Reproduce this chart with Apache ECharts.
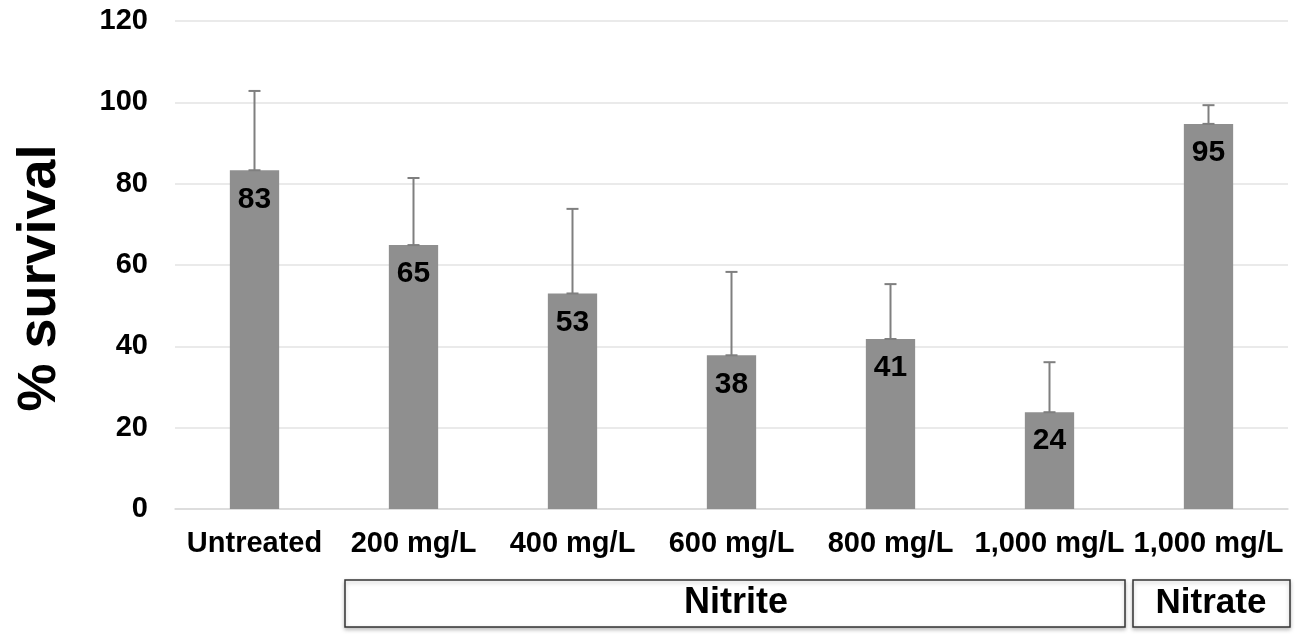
<!DOCTYPE html>
<html><head><meta charset="utf-8">
<script src="https://cdn.jsdelivr.net/npm/echarts@6/dist/echarts.min.js"></script>
<style>html,body{margin:0;padding:0;background:#fff}#c{width:1300px;height:639px}</style>
</head><body><div id="c"></div>
<script>
const categories = ['Untreated','200 mg/L','400 mg/L','600 mg/L','800 mg/L','1,000 mg/L','1,000 mg/L'];
const values = [83.3, 64.9, 53.0, 37.8, 41.8, 23.8, 94.7];
const valueLabels = ['83','65','53','38','41','24','95'];
const errorTops = [102.8, 81.4, 73.8, 58.3, 55.3, 36.1, 99.3];
const yTicks = [0, 20, 40, 60, 80, 100, 120];
const groupLabels = ['Nitrite', 'Nitrate'];
const yTitle = '% survival';

const chart = echarts.init(document.getElementById('c'));
const font = 'Liberation Sans, Arial, sans-serif';
chart.setOption({
  animation: false,
  grid: {left: 175, right: 12, top: 21, bottom: 130},
  xAxis: {
    type: 'category', data: categories,
    axisLine: {lineStyle: {color: '#d9d9d9', width: 1.5}},
    axisTick: {show: false},
    axisLabel: {color: '#000', fontWeight: 'bold', fontSize: 29, fontFamily: font, margin: 20, interval: 0}
  },
  yAxis: {
    type: 'value', min: 0, max: 120, interval: 20,
    axisLine: {show: false}, axisTick: {show: false},
    splitLine: {lineStyle: {color: '#e3e3e3', width: 1.5}},
    axisLabel: {color: '#000', fontWeight: 'bold', fontSize: 29, fontFamily: font, margin: 27,
      formatter: v => yTicks.includes(v) ? String(v) : ''}
  },
  series: [{
    type: 'bar', data: values, barWidth: '31%',
    itemStyle: {color: '#8f8f8f'},
    label: {show: true, position: 'insideTop', distance: 14, color: '#000', fontWeight: 'bold', fontSize: 30, fontFamily: font,
      formatter: p => valueLabels[p.dataIndex]}
  }, {
    type: 'custom',
    data: errorTops.map((t, i) => [i, values[i], t]),
    renderItem: (params, api) => {
      const lo = api.coord([api.value(0), api.value(1)]);
      const hi = api.coord([api.value(0), api.value(2)]);
      const w = 6;
      const st = {stroke: '#7f7f7f', lineWidth: 2};
      return {type: 'group', children: [
        {type: 'line', shape: {x1: lo[0], y1: lo[1], x2: hi[0], y2: hi[1]}, style: st},
        {type: 'line', shape: {x1: hi[0]-w, y1: hi[1], x2: hi[0]+w, y2: hi[1]}, style: st},
        {type: 'line', shape: {x1: lo[0]-w, y1: lo[1], x2: lo[0]+w, y2: lo[1]}, style: st}
      ]};
    },
    z: 5
  }],
  graphic: [
    {type: 'text', x: 40, y: 278, rotation: Math.PI / 2,
      style: {text: yTitle, fill: '#000', font: 'bold 54px "Liberation Sans", Arial', align: 'center', verticalAlign: 'middle'}},
    {type: 'rect', shape: {x: 345, y: 580, width: 780, height: 47}, style: {fill: '#fff', stroke: '#333', lineWidth: 1.5, shadowBlur: 4, shadowColor: 'rgba(0,0,0,0.25)', shadowOffsetY: 2}},
    {type: 'text', x: 736, y: 603, style: {text: groupLabels[0], fill: '#000', font: 'bold 36px "Liberation Sans", Arial', align: 'center', verticalAlign: 'middle'}},
    {type: 'rect', shape: {x: 1133, y: 580, width: 157, height: 47}, style: {fill: '#fff', stroke: '#333', lineWidth: 1.5, shadowBlur: 4, shadowColor: 'rgba(0,0,0,0.25)', shadowOffsetY: 2}},
    {type: 'text', x: 1211, y: 603, style: {text: groupLabels[1], fill: '#000', font: 'bold 35px "Liberation Sans", Arial', align: 'center', verticalAlign: 'middle'}}
  ]
});
</script></body></html>
